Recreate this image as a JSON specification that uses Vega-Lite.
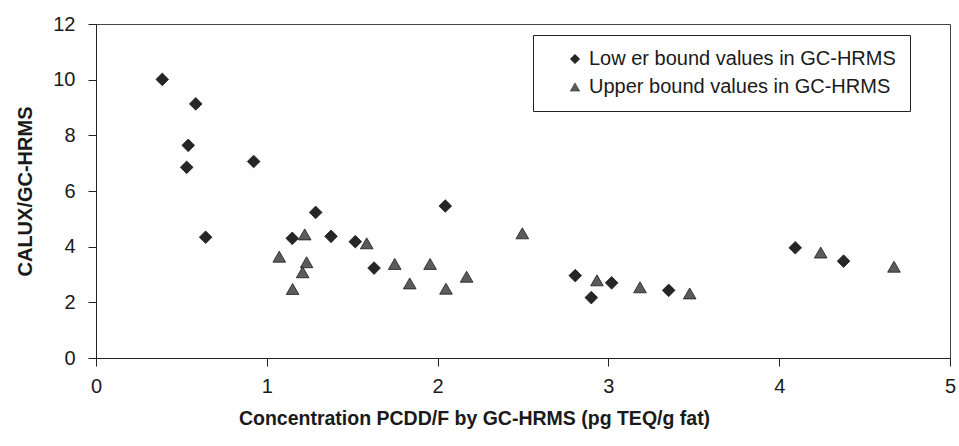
{
  "$schema": "https://vega.github.io/schema/vega-lite/v6.json",
  "autosize": "none",
  "width": 854,
  "height": 334,
  "padding": {"left": 96, "top": 24, "right": 9, "bottom": 88},
  "background": "white",
  "config": {
    "font": "Liberation Sans",
    "view": {"stroke": "#444", "strokeWidth": 1},
    "axis": {"grid": false, "domainColor": "#222", "tickColor": "#222", "labelColor": "#1a1a1a", "titleColor": "#1a1a1a", "labelFont": "Liberation Sans", "titleFont": "Liberation Sans"}
  },
  "data": {
    "values": [
      {"x": 0.388, "y": 10.01, "series": "Low er bound values in GC-HRMS"},
      {"x": 0.584, "y": 9.13, "series": "Low er bound values in GC-HRMS"},
      {"x": 0.540, "y": 7.64, "series": "Low er bound values in GC-HRMS"},
      {"x": 0.531, "y": 6.85, "series": "Low er bound values in GC-HRMS"},
      {"x": 0.923, "y": 7.06, "series": "Low er bound values in GC-HRMS"},
      {"x": 0.642, "y": 4.34, "series": "Low er bound values in GC-HRMS"},
      {"x": 1.149, "y": 4.30, "series": "Low er bound values in GC-HRMS"},
      {"x": 1.286, "y": 5.23, "series": "Low er bound values in GC-HRMS"},
      {"x": 1.376, "y": 4.37, "series": "Low er bound values in GC-HRMS"},
      {"x": 1.518, "y": 4.18, "series": "Low er bound values in GC-HRMS"},
      {"x": 1.628, "y": 3.23, "series": "Low er bound values in GC-HRMS"},
      {"x": 2.045, "y": 5.46, "series": "Low er bound values in GC-HRMS"},
      {"x": 2.806, "y": 2.96, "series": "Low er bound values in GC-HRMS"},
      {"x": 2.900, "y": 2.17, "series": "Low er bound values in GC-HRMS"},
      {"x": 3.019, "y": 2.70, "series": "Low er bound values in GC-HRMS"},
      {"x": 3.353, "y": 2.43, "series": "Low er bound values in GC-HRMS"},
      {"x": 4.094, "y": 3.96, "series": "Low er bound values in GC-HRMS"},
      {"x": 4.377, "y": 3.48, "series": "Low er bound values in GC-HRMS"},
      {"x": 1.073, "y": 3.64, "series": "Upper bound values in GC-HRMS"},
      {"x": 1.222, "y": 4.44, "series": "Upper bound values in GC-HRMS"},
      {"x": 1.585, "y": 4.12, "series": "Upper bound values in GC-HRMS"},
      {"x": 1.233, "y": 3.44, "series": "Upper bound values in GC-HRMS"},
      {"x": 1.210, "y": 3.08, "series": "Upper bound values in GC-HRMS"},
      {"x": 1.151, "y": 2.48, "series": "Upper bound values in GC-HRMS"},
      {"x": 1.749, "y": 3.38, "series": "Upper bound values in GC-HRMS"},
      {"x": 1.837, "y": 2.68, "series": "Upper bound values in GC-HRMS"},
      {"x": 1.956, "y": 3.38, "series": "Upper bound values in GC-HRMS"},
      {"x": 2.049, "y": 2.49, "series": "Upper bound values in GC-HRMS"},
      {"x": 2.170, "y": 2.92, "series": "Upper bound values in GC-HRMS"},
      {"x": 2.496, "y": 4.48, "series": "Upper bound values in GC-HRMS"},
      {"x": 2.933, "y": 2.79, "series": "Upper bound values in GC-HRMS"},
      {"x": 3.185, "y": 2.54, "series": "Upper bound values in GC-HRMS"},
      {"x": 3.476, "y": 2.32, "series": "Upper bound values in GC-HRMS"},
      {"x": 4.243, "y": 3.79, "series": "Upper bound values in GC-HRMS"},
      {"x": 4.672, "y": 3.28, "series": "Upper bound values in GC-HRMS"}
    ]
  },
  "mark": {"type": "point", "filled": true, "opacity": 1, "stroke": "#1a1a1a", "strokeWidth": 0.8, "size": 160},
  "encoding": {
    "x": {
      "field": "x", "type": "quantitative",
      "scale": {"domain": [0, 5], "nice": false, "zero": true},
      "axis": {
        "values": [0, 1, 2, 3, 4, 5], "format": "d",
        "title": "Concentration PCDD/F by GC-HRMS (pg TEQ/g fat)",
        "titleFontSize": 19.5, "titleFontWeight": "bold", "titlePadding": 13,
        "labelFontSize": 20, "labelFontWeight": "normal", "labelPadding": 10,
        "tickSize": 8, "labelFlush": false, "titleX": 378
      }
    },
    "y": {
      "field": "y", "type": "quantitative",
      "scale": {"domain": [0, 12], "nice": false},
      "axis": {
        "values": [0, 2, 4, 6, 8, 10, 12],
        "title": "CALUX/GC-HRMS",
        "titleFontSize": 20, "titleFontWeight": "bold", "titlePadding": 17,
        "labelFontSize": 20, "labelPadding": 13,
        "tickSize": 8
      }
    },
    "shape": {
      "field": "series", "type": "nominal",
      "scale": {"domain": ["Low er bound values in GC-HRMS", "Upper bound values in GC-HRMS"], "range": ["diamond", "triangle-up"]},
      "legend": {
        "orient": "none", "legendX": 437, "legendY": 11, "title": null,
        "strokeColor": "#222", "fillColor": "white", "padding": 14,
        "labelFontSize": 20, "labelColor": "#1a1a1a", "labelLimit": 400, "labelFont": "Liberation Sans",
        "symbolSize": 90, "symbolOffset": 18, "labelOffset": 4, "rowPadding": 8,
        "symbolStrokeWidth": 0.5
      }
    },
    "color": {
      "field": "series", "type": "nominal",
      "scale": {"domain": ["Low er bound values in GC-HRMS", "Upper bound values in GC-HRMS"], "range": ["#262626", "#5c5c5c"]}
    }
  }
}
